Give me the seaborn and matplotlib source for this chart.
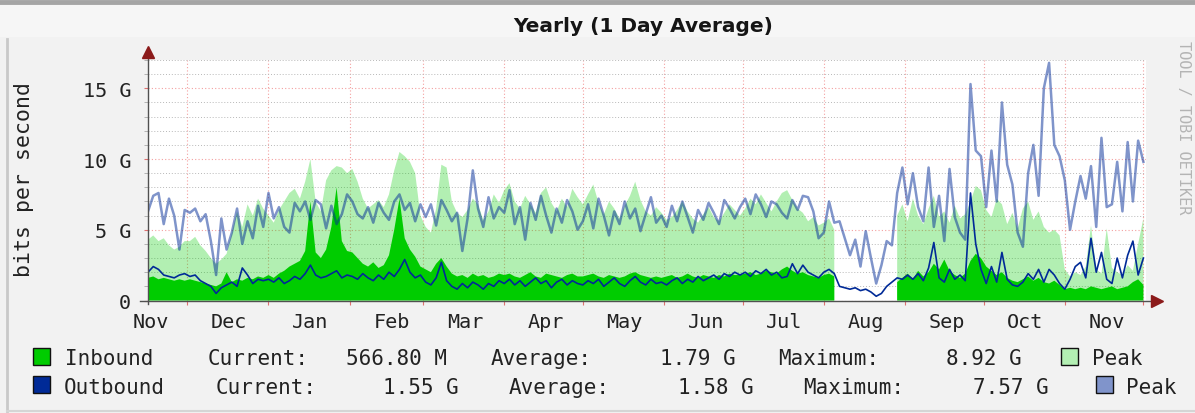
import numpy as np
import pandas as pd
import matplotlib
matplotlib.use('Agg')
import matplotlib.pyplot as plt
import matplotlib.dates as mdates
from matplotlib.ticker import MultipleLocator, NullFormatter
from matplotlib.patches import Rectangle
from matplotlib.lines import Line2D
import seaborn as sns

nan = np.nan

# 2-day samples, 16 Nov 2014 .. 1 Dec 2015, values in Gbit/s
out_peak = [
    6.3, 7.4, 7.6, 5.4, 7.2, 6.0, 3.6, 6.4,
    6.2, 6.5, 5.6, 6.1, 4.2, 1.8, 5.8, 3.6, 4.8, 6.5, 4.0, 5.6, 4.4, 6.7, 5.2,
    7.6, 5.8, 6.6, 5.2, 4.8, 6.9, 6.3, 7.0, 5.7, 7.1, 6.8, 5.1, 6.7, 5.4, 6.1, 7.5,
    7.0, 6.1, 5.8, 6.6, 5.5, 6.9, 6.2, 5.7, 7.0, 7.5, 6.4, 6.9, 5.6, 6.8,
    5.9, 6.8, 5.3, 7.1, 6.4, 5.6, 6.2, 3.5, 5.8, 9.2, 6.5, 5.2, 7.3, 5.8, 6.6,
    6.2, 7.8, 5.4, 6.6, 4.3, 6.9, 5.7, 7.4, 6.0, 4.8, 6.5, 5.5, 7.1, 6.3, 5.0,
    5.6, 6.8, 5.1, 7.2, 6.0, 4.6, 6.3, 5.4, 7.0, 5.8, 6.5, 4.9, 6.1, 7.3, 5.5,
    6.0, 5.2, 6.7, 5.6, 7.0, 5.9, 4.8, 6.4, 5.7, 6.9, 6.2, 5.4, 7.1, 6.5, 5.8,
    6.6, 7.2, 6.1, 7.5, 6.8, 5.9, 7.0, 6.8, 6.2, 5.8, 7.1, 6.4, 7.4, 7.3, 6.3, 4.4,
    4.8, 7.0, 5.5, 5.6, 4.4, 3.2, 4.3, 2.4, 4.9, 3.0, 1.2, 2.5, 4.2, 3.9, 7.6, 9.4,
    6.8, 9.0, 6.6, 5.6, 9.4, 5.2, 7.4, 4.2, 9.3, 5.9, 4.8, 4.3, 15.3, 10.6, 10.2, 6.6,
    10.6, 7.0, 14.0, 9.6, 8.2, 4.8, 3.8, 9.0, 11.0, 7.4, 15.0, 16.8, 11.0, 10.2, 8.5,
    5.0, 7.0, 8.8, 7.2, 9.5, 5.2, 11.5, 6.6, 6.8, 9.8, 6.3, 11.2, 7.0, 11.3, 9.8,
]
out_avg = [
    2.0, 2.4, 2.2, 1.8, 1.7, 1.6, 1.8, 1.9,
    1.7, 1.8, 1.4, 1.2, 1.0, 0.5, 0.9, 1.1, 1.3, 1.0, 2.3, 1.8, 1.2, 1.5, 1.4,
    1.5, 1.3, 1.6, 1.2, 1.4, 1.7, 1.5, 1.9, 2.5, 1.8, 1.6, 1.7, 1.9, 2.1, 1.6, 1.8,
    1.7, 1.5, 1.9, 1.6, 1.4, 1.8, 1.5, 2.0, 1.7, 2.2, 2.9, 2.0, 1.6, 1.8,
    1.3, 1.1, 1.6, 2.7, 1.4, 1.0, 0.8, 1.2, 0.9, 1.3, 1.1, 0.8, 1.2, 1.0, 1.4,
    1.2, 1.5, 1.1, 1.4, 1.0, 1.3, 1.6, 1.2, 1.4, 0.9, 1.3, 1.5, 1.1, 1.4, 1.2,
    1.1, 1.4, 1.2, 1.5, 1.0, 1.3, 1.6, 1.2, 1.0, 1.4, 1.7, 1.3, 1.1, 1.5, 1.2,
    1.3, 1.1, 1.4, 1.6, 1.2, 1.5, 1.3, 1.7, 1.4, 1.6, 1.8, 1.5, 1.9, 1.7, 2.0,
    1.8, 2.0, 1.7, 2.1, 1.9, 2.2, 1.8, 2.0, 1.6, 1.7, 2.6, 1.9, 2.5, 2.0, 1.8, 1.6,
    2.0, 2.2, 1.9, 1.0, 0.9, 0.8, 0.9, 0.7, 0.8, 0.6, 0.3, 0.5, 1.0, 1.3, 1.6, 1.5,
    1.8, 1.5, 1.9, 1.4, 2.3, 4.1, 1.6, 1.3, 2.2, 1.5, 1.8, 1.4, 7.6, 4.0, 2.2, 1.2,
    2.4, 1.3, 3.4, 1.5, 1.1, 1.0, 1.3, 1.9, 1.5, 2.2, 1.3, 2.2, 1.8, 1.2, 0.8,
    1.5, 2.4, 2.7, 1.6, 4.4, 2.0, 3.4, 1.5, 1.2, 3.0, 1.6, 3.2, 4.2, 1.8, 3.0,
]
in_peak = [
    4.3, 4.6, 4.2, 4.4, 3.9, 3.6, 3.8, 4.2,
    4.2, 4.5, 3.9, 3.5, 3.0, 2.6, 2.9, 3.3, 4.8, 6.3, 5.2, 6.8, 6.0, 7.2, 6.5,
    6.0, 5.5, 6.4, 7.0, 7.6, 7.9, 7.2, 8.4, 10.0, 7.0, 6.3, 8.5, 9.2, 9.5, 9.4, 9.0,
    9.3, 8.4, 7.2, 6.5, 6.8, 7.1, 6.6, 7.5, 9.2, 10.5, 10.2, 9.8, 9.0, 6.0,
    5.2, 4.8, 6.5, 9.6, 9.4, 7.0, 6.2, 5.9, 6.4, 7.2, 6.8, 5.7, 6.3, 7.5, 6.9,
    7.8, 8.3, 7.0, 6.5, 7.4, 6.8, 6.2, 7.6, 8.0, 6.9, 6.3, 7.2, 6.6, 7.9, 7.3,
    6.8, 7.5, 8.2, 6.9, 6.1, 7.0, 6.5, 5.8, 6.7, 7.4, 8.4, 7.1, 6.3, 6.0, 6.6,
    6.2, 5.7, 5.9, 6.4, 7.0, 6.3, 5.8, 5.5, 6.1, 6.6, 5.9, 5.6, 6.2, 6.8, 6.4,
    6.0, 6.5, 7.2, 6.8, 7.5, 6.9, 6.3, 7.0, 7.6, 7.8, 7.1, 6.5, 6.2, 5.6, 5.9, 5.3,
    5.5, 5.8, 5.0, nan, nan, nan, nan, nan, nan, nan, nan, nan, nan, nan, 6.0, 6.8,
    5.6, 7.2, 6.0, 5.4, 6.5, 7.4, 5.9, 6.3, 5.5, 6.7, 5.8, 6.1, 7.0, 8.1, 7.8, 6.4,
    5.9, 7.2, 6.8, 5.4, 6.2, 5.1, 6.5, 7.0, 5.7, 6.3, 5.2, 4.8, 5.0, 4.6, 2.2,
    1.7, 2.0, 1.8, 2.4, 5.3, 2.2, 1.9, 5.1, 2.3, 2.0, 1.8, 2.5, 2.1, 4.0, 5.8,
]
in_avg = [
    1.6, 1.7, 1.5, 1.6, 1.5, 1.4, 1.5, 1.4,
    1.5, 1.4, 1.3, 1.2, 1.1, 1.0, 1.2, 2.0, 1.3, 1.5, 1.4, 1.6, 1.5, 1.7, 1.6,
    1.8, 1.6, 1.9, 2.1, 2.4, 2.6, 2.8, 3.5, 7.0, 3.4, 3.0, 3.6, 5.2, 8.0, 4.2, 3.5,
    3.4, 3.0, 2.6, 2.4, 2.7, 2.3, 2.5, 3.2, 5.0, 7.2, 4.4, 3.6, 3.1, 2.4,
    2.2, 2.0, 2.6, 3.0, 2.4, 1.9, 1.7, 1.8, 1.6, 1.9, 1.7, 1.8, 1.6, 1.7, 1.9,
    1.8, 1.9, 1.7, 1.6, 1.8, 2.0, 1.7, 1.6, 1.9, 1.8, 1.7, 1.6, 1.8, 1.9, 1.7,
    1.7, 1.8, 1.9, 1.7, 1.6, 1.8, 1.7, 1.6, 1.7, 1.9, 2.0, 1.8, 1.7, 1.6, 1.7,
    1.6, 1.7, 1.8, 1.6, 1.7, 1.9, 1.7, 1.6, 1.8, 1.7, 1.6, 1.8, 1.7, 1.9, 1.8,
    1.8, 1.9, 2.0, 1.8, 1.9, 2.1, 2.0, 1.9, 2.2, 2.4, 2.1, 1.9, 2.0, 1.8, 1.7, 1.6,
    1.8, 1.9, 1.7, nan, nan, nan, nan, nan, nan, nan, nan, nan, nan, nan, 1.3, 1.6,
    1.9, 1.5, 2.1, 1.7, 2.0, 2.6, 2.2, 2.9, 2.1, 1.8, 1.6, 1.9, 2.8, 3.3, 3.0, 2.4,
    2.1, 1.8, 2.0, 1.6, 1.4, 1.3, 1.5, 1.7, 1.4, 1.6, 1.3, 1.2, 1.4, 1.1, 0.8,
    0.9, 0.8, 0.9, 0.8, 1.0, 0.9, 0.8, 0.9, 1.0, 0.8, 0.9, 1.0, 1.3, 1.5, 1.1,
]

y_ticks = [0, 5, 10, 15]
y_tick_labels = ['0', '5 G', '10 G', '15 G']

legend_rows = [
    ['Inbound', 'Current:', '566.80 M', 'Average:', '1.79 G', 'Maximum:', '8.92 G', 'Peak'],
    ['Outbound', 'Current:', '1.55 G', 'Average:', '1.58 G', 'Maximum:', '7.57 G', 'Peak'],
]

GREEN = '#00CC00'
BLUE = '#002A97'

df = pd.DataFrame({
    'date': pd.date_range('2014-11-16', periods=len(out_peak), freq='2D'),
    'out_peak': out_peak, 'out_avg': out_avg,
    'in_peak': in_peak, 'in_avg': in_avg,
})

plt.rcParams['font.family'] = ['DejaVu Sans Mono']
W, H = 1195, 414
fig = plt.figure(figsize=(W / 100, H / 100), dpi=100, facecolor='#F2F2F2')
x0, x1, y0, y1 = 148, 1146, 301.5, 61
ax = fig.add_axes([x0 / W, 1 - y0 / H, (x1 - x0) / W, (y0 - y1) / H])
ax.set_facecolor('white')

ax.fill_between(df['date'], 0, df['in_peak'], color=GREEN, alpha=0.3, lw=0, zorder=1)
ax.fill_between(df['date'], 0, df['in_avg'], color=GREEN, lw=0, zorder=2)
sns.lineplot(data=df, x='date', y='out_peak', color=BLUE, alpha=0.5, lw=1.8, ax=ax, zorder=3)
sns.lineplot(data=df, x='date', y='out_avg', color=BLUE, lw=1.2, ax=ax, zorder=4)

ax.set_xlim(df['date'].iloc[0], df['date'].iloc[0] + pd.Timedelta(days=381))
ax.set_ylim(0, 17)
ax.set_xlabel('')
ax.set_ylabel('')
for s in ax.spines.values():
    s.set_visible(False)

ax.set_yticks(y_ticks)
ax.set_yticklabels(y_tick_labels)
ax.yaxis.set_minor_locator(MultipleLocator(1))
ax.xaxis.set_major_locator(mdates.MonthLocator())
ax.xaxis.set_major_formatter(NullFormatter())
ax.xaxis.set_minor_locator(mdates.MonthLocator(bymonthday=17))
ax.xaxis.set_minor_formatter(mdates.DateFormatter('%b'))

grid_red = '#F4A0A0'
ax.set_axisbelow(True)
ax.yaxis.grid(True, which='major', color=grid_red, ls=(0, (1, 2)), lw=0.8)
ax.yaxis.grid(True, which='minor', color='#B8B8B8', ls=(0, (1, 2)), lw=0.7)
ax.xaxis.grid(True, which='major', color=grid_red, ls=(0, (1, 2)), lw=0.8)

ax.tick_params(axis='y', which='major', length=3, color='#E07070', pad=9, labelsize=14.5, labelcolor='#222222')
ax.tick_params(axis='y', which='minor', length=3, color='#A8A8A8')
ax.tick_params(axis='x', which='major', length=3, color='#E07070')
ax.tick_params(axis='x', which='minor', length=0, pad=8, labelsize=14.5, labelcolor='#222222')

# axis lines with arrow heads
ax.plot([-0.008, 1.008], [0, 0], transform=ax.transAxes, color='#505050', lw=1, clip_on=False, zorder=6)
ax.plot([0, 0], [-0.015, 1.02], transform=ax.transAxes, color='#505050', lw=1, clip_on=False, zorder=6)
ax.plot([1.011], [0], marker='>', ms=8, color='#8B1A1A', transform=ax.transAxes, clip_on=False, zorder=7)
ax.plot([0], [1.033], marker='^', ms=8, color='#8B1A1A', transform=ax.transAxes, clip_on=False, zorder=7)

def fx(px):
    return px / W

def fy(py):
    return 1 - py / H

# page decoration
fig.add_artist(Rectangle((0, fy(38)), 1, 38 / H, transform=fig.transFigure, color='#F6F6F6', lw=0, zorder=0))
fig.add_artist(Line2D([0, 1], [fy(2.5), fy(2.5)], color='#A5A5A5', lw=3.5))
fig.add_artist(Line2D([fx(7), fx(7)], [fy(40), fy(412)], color='#C9C9C9', lw=2))
fig.add_artist(Line2D([fx(7), 1], [fy(412), fy(412)], color='#D5D5D5', lw=1.5))

fig.text(fx(643), fy(32.5), 'Yearly (1 Day Average)', ha='center', va='baseline',
         family='DejaVu Sans', fontweight='bold', fontsize=14.5, color='#151515')
fig.text(fx(24), fy(180), 'bits per second', rotation=90, ha='center', va='center',
         fontsize=15.5, color='#222222')
fig.text(fx(1184), fy(41), 'TOOL / TOBI OETIKER', rotation=270, ha='center', va='top',
         fontsize=11, color='#B4B4B4')

# legend
row_y = [365.5, 394]
row_x = [
    [65, 208, 346, 491, 660, 778, 946, 1092],
    [64, 216, 383, 509, 678, 803, 973, 1126],
]
squares = [
    [(33, 349, GREEN), (1061, 349, '#B3EFB3')],
    [(33, 377, BLUE), (1096, 377, '#8094CB')],
]
for r in range(2):
    for (sx, sy, c) in squares[r]:
        fig.add_artist(Rectangle((fx(sx), fy(sy + 17)), 17 / W, 17 / H, transform=fig.transFigure,
                                 facecolor=c, edgecolor='#111111', lw=1))
    for txt, px in zip(legend_rows[r], row_x[r]):
        fig.text(fx(px), fy(row_y[r]), txt, ha='left', va='baseline', fontsize=15, color='#222222')

fig.savefig('out.png', dpi=100, facecolor=fig.get_facecolor())
